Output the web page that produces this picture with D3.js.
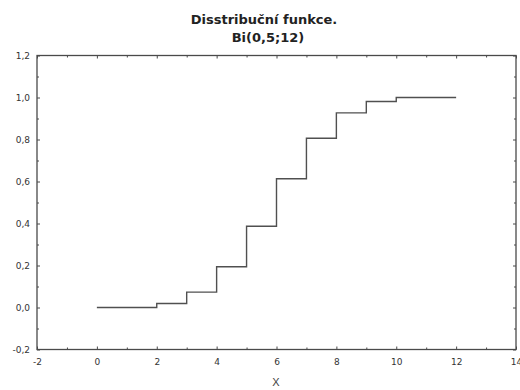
<!DOCTYPE html>
<html><head><meta charset="utf-8">
<script src="https://cdn.jsdelivr.net/npm/d3@7"></script>
<style>body{margin:0;background:#fff}svg{display:block}text{font-family:"DejaVu Sans",Verdana,sans-serif}</style>
</head><body><svg id="c" width="520" height="390"></svg>
<script>
const titleLines = ["Disstribuční funkce.", "Bi(0,5;12)"];
const xLabel = "X";
const xValues = [0,1,2,3,4,5,6,7,8,9,10,11,12];
const cdfValues = [0.000,0.000,0.019,0.073,0.194,0.387,0.613,0.806,0.927,0.981,1.000,1.000,1.000];
const xTicks = [-2,0,2,4,6,8,10,12,14];
const yTicks = [-0.2,0,0.2,0.4,0.6,0.8,1.0,1.2];

const svg = d3.select("#c");
const L=37, R=516, T=55.5, B=349.5;
const x = d3.scaleLinear().domain([-2,14]).range([L,R]);
const y = d3.scaleLinear().domain([-0.2,1.2]).range([B,T]);
const fmt = d => d3.format(".1f")(d).replace(".", ",").replace("\u2212","-").replace("-0,0","0,0");
const fmtX = d => d3.format("d")(d).replace("\u2212","-");
const col = "#4a4a4a";

const xMinor = d3.range(-1,14,2);
const yMinor = d3.range(-0.1,1.2,0.2);

function styleAxis(g){ g.select(".domain").remove(); g.selectAll("line").attr("stroke",col); g.selectAll("text").attr("fill","#333").style("font-size","9px"); }

svg.append("g").attr("transform",`translate(0,${B})`)
  .call(d3.axisBottom(x).tickValues(xTicks).tickSize(-3).tickPadding(9).tickFormat(fmtX)).call(styleAxis);
svg.append("g").attr("transform",`translate(0,${B})`)
  .call(d3.axisBottom(x).tickValues(xMinor).tickSize(-2).tickFormat("")).call(styleAxis);
svg.append("g").attr("transform",`translate(0,${T})`)
  .call(d3.axisTop(x).tickValues(xTicks).tickSize(-3).tickFormat("")).call(styleAxis);
svg.append("g").attr("transform",`translate(0,${T})`)
  .call(d3.axisTop(x).tickValues(xMinor).tickSize(-2).tickFormat("")).call(styleAxis);
svg.append("g").attr("transform",`translate(${L},0)`)
  .call(d3.axisLeft(y).tickValues(yTicks).tickSize(-3).tickPadding(7).tickFormat(fmt)).call(styleAxis);
svg.append("g").attr("transform",`translate(${L},0)`)
  .call(d3.axisLeft(y).tickValues(yMinor).tickSize(-2).tickFormat("")).call(styleAxis);
svg.append("g").attr("transform",`translate(${R},0)`)
  .call(d3.axisRight(y).tickValues(yTicks).tickSize(-3).tickFormat("")).call(styleAxis);
svg.append("g").attr("transform",`translate(${R},0)`)
  .call(d3.axisRight(y).tickValues(yMinor).tickSize(-2).tickFormat("")).call(styleAxis);

svg.append("rect").attr("x",L).attr("y",T).attr("width",R-L).attr("height",B-T)
  .attr("fill","none").attr("stroke",col).attr("stroke-width",1.3);

const line = d3.line().x((d,i)=>x(xValues[i])).y(d=>y(d)).curve(d3.curveStepAfter);
svg.append("path").datum(cdfValues).attr("d",line).attr("fill","none")
  .attr("stroke","#505050").attr("stroke-width",1.4);

svg.append("text").attr("x",264).attr("y",24).attr("text-anchor","middle")
  .style("font-size","13px").style("font-weight","bold").attr("fill","#222").text(titleLines[0]);
svg.append("text").attr("x",268).attr("y",42).attr("text-anchor","middle")
  .style("font-size","13px").style("font-weight","bold").attr("fill","#222").text(titleLines[1]);
svg.append("text").attr("x",276).attr("y",386).attr("text-anchor","middle")
  .style("font-size","11px").style("font-family","Liberation Sans, Arial, sans-serif").attr("fill","#444").text(xLabel);
</script></body></html>
